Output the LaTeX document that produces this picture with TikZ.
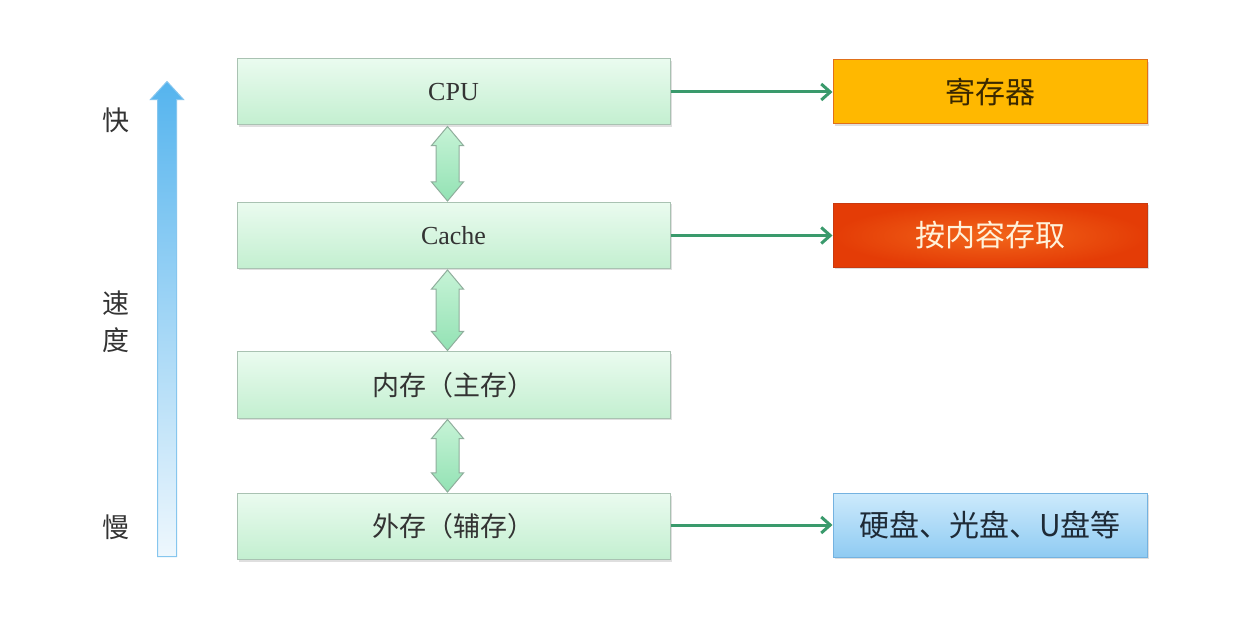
\documentclass[tikz,border=0pt]{standalone}
\usepackage{fontspec}
\setmainfont{Liberation Serif}
\newfontfamily\cjk{Noto Sans CJK SC}
\usetikzlibrary{shapes.arrows,shadows,arrows.meta,calc}

\definecolor{levelTop}{HTML}{EAFBEF}
\definecolor{levelBot}{HTML}{C3EFD0}
\definecolor{levelLine}{HTML}{A9C2B2}
\definecolor{linkGreen}{HTML}{3A9A6C}
\definecolor{regFill}{HTML}{FFB800}
\definecolor{regLine}{HTML}{E0701A}
\definecolor{regText}{HTML}{3A2800}
\definecolor{camIn}{HTML}{F2661A}
\definecolor{camOut}{HTML}{E43C06}
\definecolor{camLine}{HTML}{C83A10}
\definecolor{camText}{HTML}{FFF2DA}
\definecolor{diskTop}{HTML}{CDEAFC}
\definecolor{diskBot}{HTML}{8FCBF2}
\definecolor{diskLine}{HTML}{74B2E0}
\definecolor{diskText}{HTML}{1E2A36}
\definecolor{speedTop}{HTML}{55B4EE}
\definecolor{speedBot}{HTML}{EEF7FD}
\definecolor{speedLine}{HTML}{86C6EE}
\definecolor{dblTop}{HTML}{C6F3D6}
\definecolor{dblBot}{HTML}{93E2B4}
\definecolor{dblLine}{HTML}{8FAE9C}
\definecolor{txtDark}{HTML}{333333}

\tikzset{
  level/.style={rectangle, draw=levelLine, line width=1pt,
    top color=levelTop, bottom color=levelBot,
    minimum width=433pt, minimum height=66pt, inner sep=0pt,
    text=txtDark,
    drop shadow={shadow xshift=2pt, shadow yshift=-2pt, opacity=0.25}},
  sidebox/.style={rectangle, line width=1pt,
    minimum width=314pt, minimum height=64pt, inner sep=0pt,
    drop shadow={shadow xshift=2pt, shadow yshift=-2pt, opacity=0.25},
    font=\cjk\fontsize{30}{34}\selectfont},
  link/.style={draw=linkGreen, line width=3pt,
    -{Straight Barb[length=9pt,width=16pt,line width=3pt]}},
  dblarrow/.style={double arrow, shape border rotate=90,
    draw=dblLine, line width=1pt, top color=dblTop, bottom color=dblBot,
    inner sep=11pt, double arrow head extend=4.5pt, double arrow tip angle=80,
    minimum width=31pt},
  speed/.style={single arrow, shape border rotate=90,
    draw=speedLine, line width=1pt, top color=speedTop, bottom color=speedBot,
    inner sep=9pt, single arrow head extend=7pt, minimum width=32pt,
    single arrow tip angle=85},
  sidelabel/.style={text=txtDark, font=\cjk\fontsize{27}{30}\selectfont}
}

\begin{document}
\begin{tikzpicture}[x=1pt,y=-1pt]
\useasboundingbox[fill=white] (0,0) rectangle (1256,644);

% memory hierarchy levels
\node[level, font=\fontsize{26}{30}\selectfont] (cpu)   at (453.5,92)    {CPU};
\node[level, font=\fontsize{26}{30}\selectfont] (cache) at (453.5,235.5) {Cache};
\node[level, font=\cjk\fontsize{27}{30}\selectfont] (mem) at (453.5,385) {内存（主存）};
\node[level, font=\cjk\fontsize{27}{30}\selectfont] (ext) at (453.5,526.5) {外存（辅存）};

% side notes
\node[sidebox, draw=regLine, fill=regFill, text=regText] (reg) at (990,92) {寄存器};
\node[sidebox, draw=camLine, inner color=camIn, outer color=camOut, text=camText] (cam) at (990,235.5) {按内容存取};
\node[sidebox, draw=diskLine, top color=diskTop, bottom color=diskBot, text=diskText] (disk) at (990,525) {硬盘、光盘、U盘等};

\draw[link] (cpu.east)   -- (reg.west);
\draw[link] (cache.east) -- (cam.west);
\draw[link] (ext.east |- disk.west) -- (disk.west);

% two-way transfers between neighbouring levels
\foreach \a/\b in {cpu/cache, cache/mem, mem/ext}{
  \path let \p1=([xshift=-6pt]\a.south), \p2=([xshift=-6pt]\b.north),
            \n1={abs(\y2-\y1)-2pt} in
    node[dblarrow, minimum height=\n1] at ($(\p1)!0.5!(\p2)$) {};
}

% speed axis
\coordinate (fastEnd) at (167,82);
\coordinate (slowEnd) at (167,557);
\path let \p1=(fastEnd), \p2=(slowEnd), \n1={abs(\y2-\y1)} in
  node[speed, minimum height=\n1, anchor=tail] (axis) at (slowEnd) {};

\node[sidelabel] (fast)  at (116,120) {快};
\node[sidelabel] (spd1)  at (116,303) {速};
\node[sidelabel] (spd2)  at (116,340) {度};
\node[sidelabel] (slow)  at (116,527) {慢};
\end{tikzpicture}
\end{document}
